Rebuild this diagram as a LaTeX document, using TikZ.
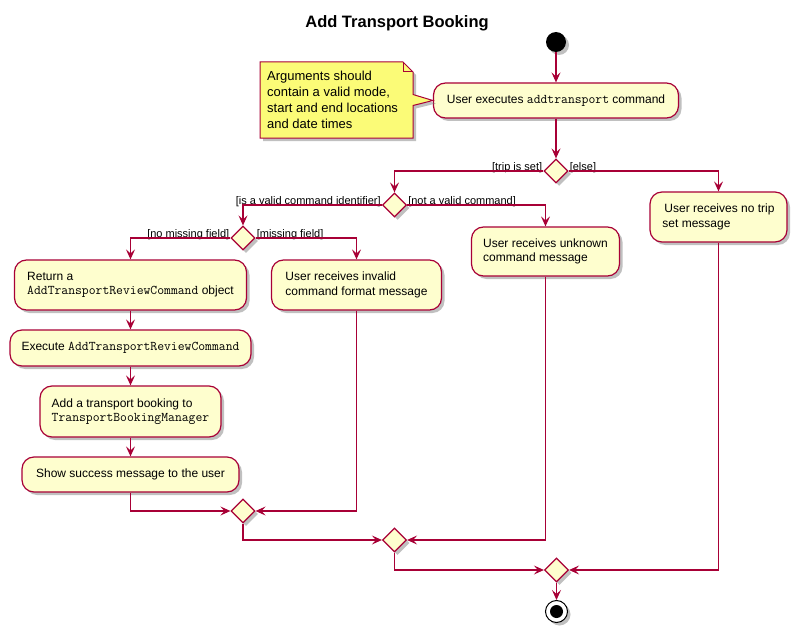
\documentclass[tikz,border=0pt]{standalone}
\usepackage{fontspec}
\setmainfont{Liberation Sans}
\usetikzlibrary{arrows.meta}
\usetikzlibrary{shapes.geometric}
\usetikzlibrary{shadows}

\definecolor{umlred}{HTML}{A80036}
\definecolor{umlfill}{HTML}{FEFECE}
\definecolor{notefill}{HTML}{FBFB77}

\newcommand\code[1]{{\ttfamily\fontsize{13.3}{14.3}\selectfont #1}}

\tikzset{
  umlshadow/.style={drop shadow={opacity=0.45,shadow xshift=3pt,shadow yshift=-3pt,fill=black!55}},
  act/.style={draw=umlred,fill=umlfill,line width=1.2pt,rounded corners=12pt,align=left,
    inner sep=0pt,font=\fontsize{12}{14.3}\selectfont,umlshadow},
  choice/.style={diamond,draw=umlred,fill=umlfill,line width=1.2pt,inner sep=0pt,
    minimum width=24pt,minimum height=24pt,umlshadow},
  guard/.style={font=\fontsize{11}{13}\selectfont,inner sep=0pt},
  flow/.style={draw=umlred,line width=1.1pt,-{Stealth[length=10pt,width=9pt,inset=4pt]}},
}

\begin{document}
\begin{tikzpicture}[x=1pt,y=-1pt]
    \useasboundingbox (0,0) rectangle (796,634);
    \node [font=\fontsize{16.5}{19}\selectfont\bfseries] (title) at (397,23) {Add Transport Booking};
    %% start and first action
    \node [circle,fill=black,minimum size=20pt,inner sep=0pt,umlshadow] (start) at (556,42) {};
    \node [act,minimum width=245pt,minimum height=35pt] (act1) at (556,100.5) {User executes \code{addtransport} command};
    \draw [flow] (start) -- (act1);
    %% note
    \draw [draw=umlred,fill=notefill,line width=1pt,umlshadow] (260,62) -- (403,62) -- (413,72) -- (413,94.5)
      -- (act1.west) -- (413,105.5) -- (413,138) -- (260,138) -- cycle;
    \draw [draw=umlred,line width=1pt] (403,62) -- (403,72) -- (413,72);
    \node [anchor=west,align=left,inner sep=0pt,font=\fontsize{13}{16.2}\selectfont] (note) at (267,100)
      {Arguments should\\contain a valid mode,\\start and end locations\\and date times};
    %% trip is set ?
    \node [choice] (d1) at (556,171) {};
    \draw [flow] (act1) -- (d1);
    \node [guard,anchor=south east] (g1a) at ([xshift=-1pt,yshift=-2pt]d1.west) {[trip is set]};
    \node [guard,anchor=south west] (g1b) at ([xshift=1pt,yshift=-2pt]d1.east) {[else]};
    \node [act,minimum width=137pt,minimum height=50pt] (notrip) at (718.5,217) {\hspace{2pt}User receives no trip\\set message};
    \draw [flow] (d1.east) -| (notrip.north);
    %% valid command ?
    \node [choice] (d2) at (394.5,205) {};
    \draw [flow] (d1.west) -| (d2.north);
    \node [guard,anchor=south east] (g2a) at ([xshift=-1pt,yshift=-2pt]d2.west) {[is a valid command identifier]};
    \node [guard,anchor=south west] (g2b) at ([xshift=1pt,yshift=-2pt]d2.east) {[not a valid command]};
    \node [act,minimum width=148pt,minimum height=49pt] (unknown) at (545.5,251.5) {User receives unknown\\command message};
    \draw [flow] (d2.east) -| (unknown.north);
    %% missing field ?
    \node [choice] (d3) at (243,238) {};
    \draw [flow] (d2.west) -| (d3.north);
    \node [guard,anchor=south east] (g3a) at ([xshift=-1pt,yshift=-2pt]d3.west) {[no missing field]};
    \node [guard,anchor=south west] (g3b) at ([xshift=1pt,yshift=-2pt]d3.east) {[missing field]};
    \node [act,minimum width=232pt,minimum height=50pt] (ret) at (130.5,285) {Return a\\\code{AddTransportReviewCommand} object};
    \node [act,minimum width=170pt,minimum height=50pt] (invalid) at (356.5,285) {User receives invalid\\command format message};
    \draw [flow] (d3.west) -| (ret.north);
    \draw [flow] (d3.east) -| (invalid.north);
    %% main sequence
    \node [act,minimum width=241pt,minimum height=36pt] (exec) at (130.5,348) {Execute \code{AddTransportReviewCommand}};
    \node [act,minimum width=181pt,minimum height=51pt] (addb) at (130.5,411.5) {Add a transport booking to\\\code{TransportBookingManager}};
    \node [act,minimum width=217pt,minimum height=35pt] (show) at (130.5,474.5) {Show success message to the user};
    \draw [flow] (ret) -- (exec);
    \draw [flow] (exec) -- (addb);
    \draw [flow] (addb) -- (show);
    %% merges
    \node [choice] (m1) at (243,511) {};
    \node [choice] (m2) at (394.5,540) {};
    \node [choice] (m3) at (556.5,570) {};
    \draw [flow] (show.south) |- (m1.west);
    \draw [flow] (invalid.south) |- (m1.east);
    \draw [flow] (m1.south) |- (m2.west);
    \draw [flow] (unknown.south) |- (m2.east);
    \draw [flow] (m2.south) |- (m3.west);
    \draw [flow] (notrip.south) |- (m3.east);
    %% end
    \node [circle,draw=black,fill=white,line width=1pt,minimum size=22pt,inner sep=0pt,umlshadow] (stop) at (556.5,611.5) {};
    \fill (stop.center) circle (6.5);
    \draw [flow] (m3) -- (stop);
\end{tikzpicture}
\end{document}
